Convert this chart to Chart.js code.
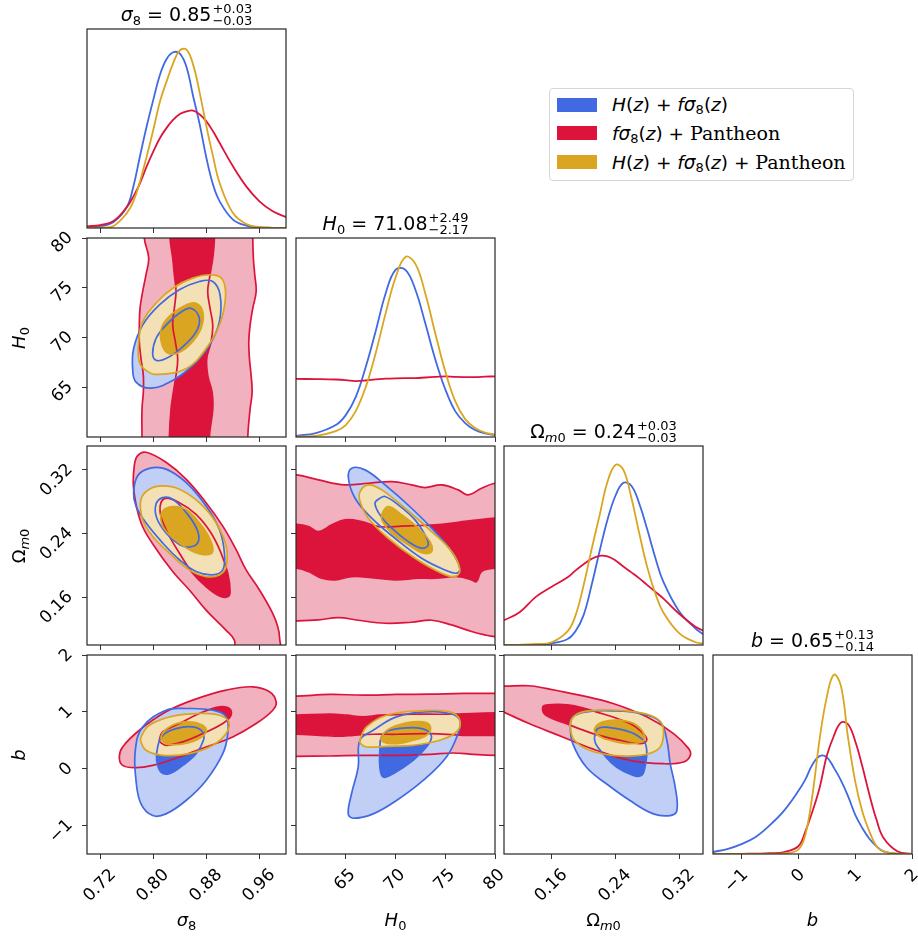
<!DOCTYPE html>
<html>
<head>
<meta charset="utf-8">
<title>corner plot</title>
<script src="https://cdn.jsdelivr.net/npm/chart.js@4.4.1/dist/chart.umd.min.js"></script>
<style>
  html, body { margin: 0; padding: 0; background: #fff; }
  body { position: relative; width: 918px; height: 938px; overflow: hidden; font-family: "DejaVu Sans", sans-serif; }
  canvas { position: absolute; }
  .txt { position: absolute; color: #000; white-space: nowrap; }
  .ttl { font-size: 19px; line-height: 30px; height: 30px; width: 199px; text-align: center; }
  .ttl sub { font-size: 13px; vertical-align: -4px; line-height: 0; }
  .pm { display: inline-block; font-size: 13px; line-height: 12px; vertical-align: -4px; text-align: left; margin-left: 1px; }
  .pm span { display: block; }
  .ax { font-size: 18px; line-height: 24px; height: 24px; }
  .ax sub { font-size: 13px; vertical-align: -4px; line-height: 0; }
  .bottom { width: 199px; text-align: center; }
  .left { transform: translate(-50%, -50%) rotate(-90deg); }
  #legend { position: absolute; left: 549px; top: 88px; width: 303px; height: 91px; border: 1px solid #d6d6d6; border-radius: 4px; background: #fff; }
  .lrow { position: absolute; left: 0; height: 24px; line-height: 24px; font-size: 18.5px; white-space: nowrap; }
  .patch { position: absolute; left: 7px; top: 5px; width: 40px; height: 14px; }
  .ltext { position: absolute; left: 62px; top: 0; }
  .ltext sub { font-size: 13px; vertical-align: -3px; line-height: 0; }
  .rm { font-family: "DejaVu Serif", serif; font-size: 19px; }
</style>
</head>
<body>
<script>
// ---------- 1D marginals (height of the curve, 0 = bottom, 1 = top of panel) ----------
const s8Grid = [0.70, 0.72, 0.74, 0.76, 0.77, 0.78, 0.79, 0.80, 0.81, 0.82, 0.83, 0.84, 0.85, 0.86, 0.87, 0.88, 0.89, 0.90, 0.92, 0.94, 0.96, 0.98, 1.00];
const s8Blue = [0.003, 0.008, 0.03, 0.105, 0.21, 0.363, 0.511, 0.645, 0.77, 0.849, 0.883, 0.876, 0.809, 0.662, 0.519, 0.352, 0.218, 0.134, 0.042, 0.012, 0.003, 0.001, 0];
const s8Red = [0.008, 0.015, 0.035, 0.105, 0.159, 0.226, 0.31, 0.385, 0.452, 0.503, 0.544, 0.573, 0.586, 0.59, 0.57, 0.536, 0.486, 0.427, 0.31, 0.209, 0.134, 0.084, 0.055];
const s8Gold = [0, 0.002, 0.01, 0.075, 0.134, 0.235, 0.36, 0.494, 0.636, 0.737, 0.829, 0.893, 0.896, 0.821, 0.678, 0.511, 0.36, 0.226, 0.075, 0.02, 0.005, 0.001, 0];

const h0Grid = [60, 62, 64, 65, 66, 67, 68, 69, 70, 71, 72, 73, 74, 75, 76, 77, 78, 79, 80];
const h0Blue = [0.006, 0.02, 0.06, 0.11, 0.2, 0.35, 0.53, 0.72, 0.84, 0.84, 0.74, 0.57, 0.39, 0.24, 0.13, 0.07, 0.035, 0.018, 0.01];
const h0Red = [0.292, 0.291, 0.289, 0.286, 0.281, 0.284, 0.29, 0.293, 0.295, 0.296, 0.296, 0.299, 0.302, 0.305, 0.302, 0.301, 0.301, 0.303, 0.305];
const h0Gold = [0.002, 0.006, 0.03, 0.06, 0.13, 0.25, 0.42, 0.62, 0.8, 0.905, 0.87, 0.72, 0.52, 0.33, 0.18, 0.09, 0.045, 0.022, 0.012];

const omGrid = [0.10, 0.12, 0.14, 0.16, 0.18, 0.19, 0.20, 0.21, 0.22, 0.23, 0.24, 0.25, 0.26, 0.27, 0.28, 0.29, 0.30, 0.32, 0.34, 0.35];
const omBlue = [0, 0.001, 0.002, 0.008, 0.03, 0.07, 0.15, 0.3, 0.47, 0.63, 0.75, 0.815, 0.8, 0.71, 0.58, 0.44, 0.32, 0.17, 0.085, 0.055];
const omRed = [0.124, 0.166, 0.242, 0.293, 0.34, 0.375, 0.406, 0.433, 0.448, 0.445, 0.425, 0.394, 0.365, 0.335, 0.301, 0.268, 0.234, 0.157, 0.093, 0.073];
const omGold = [0, 0.001, 0.005, 0.014, 0.07, 0.15, 0.3, 0.48, 0.65, 0.82, 0.905, 0.88, 0.74, 0.56, 0.39, 0.26, 0.165, 0.06, 0.015, 0.007];

const bGrid = [-1.5, -1.25, -1.0, -0.75, -0.5, -0.25, 0, 0.125, 0.25, 0.375, 0.5, 0.625, 0.75, 0.875, 1.0, 1.125, 1.25, 1.375, 1.5, 1.75, 2.0];
const bBlue = [0.01, 0.025, 0.05, 0.086, 0.145, 0.218, 0.316, 0.375, 0.45, 0.492, 0.487, 0.434, 0.37, 0.291, 0.198, 0.131, 0.077, 0.039, 0.013, 0.002, 0];
const bRed = [0, 0, 0.001, 0.002, 0.004, 0.01, 0.039, 0.114, 0.215, 0.333, 0.492, 0.593, 0.66, 0.652, 0.568, 0.442, 0.299, 0.173, 0.081, 0.013, 0.001];
const bGold = [0, 0, 0, 0, 0.001, 0.003, 0.022, 0.097, 0.299, 0.576, 0.787, 0.901, 0.845, 0.585, 0.366, 0.215, 0.114, 0.039, 0.013, 0.002, 0];

// ---------- 2D contours: [x, y] outlines, 95% and 68% ----------
// H0 vs sigma8
const h0s8Red95 = [[0.7864, 84], [0.7864, 80], [0.7930, 77.99], [0.7889, 76.30], [0.7839, 74.62], [0.7799, 72.93], [0.7789, 71.25], [0.7789, 69.56], [0.7814, 67.88], [0.7849, 66.19], [0.7849, 64.50], [0.7829, 62.82], [0.7829, 60], [0.7829, 56],
  [0.9424, 56], [0.9424, 60], [0.9459, 62.82], [0.9489, 64.50], [0.9474, 66.19], [0.9449, 67.88], [0.9439, 69.56], [0.9459, 71.25], [0.9499, 72.93], [0.9550, 74.62], [0.9529, 76.30], [0.9508, 77.99], [0.9499, 80], [0.9499, 84]];
const h0s8Red68 = [[0.8252, 84], [0.8252, 80], [0.8292, 77.99], [0.8317, 76.30], [0.8342, 74.62], [0.8317, 72.93], [0.8292, 71.25], [0.8332, 69.56], [0.8367, 67.88], [0.8342, 66.19], [0.8302, 64.50], [0.8267, 62.82], [0.8242, 60], [0.8242, 56],
  [0.8845, 56], [0.8845, 60], [0.8896, 62.82], [0.8886, 64.50], [0.8820, 66.19], [0.8805, 67.88], [0.8870, 69.56], [0.8896, 71.25], [0.8855, 72.93], [0.8820, 74.62], [0.8855, 76.30], [0.8896, 77.99], [0.8921, 80], [0.8921, 84]];
const h0s8Blue95 = [[0.7688, 66.87], [0.7739, 65.52], [0.7965, 64.91], [0.8292, 65.69], [0.8594, 67.20], [0.8845, 69.22], [0.8996, 71.58], [0.9006, 74.28], [0.8896, 75.63], [0.8694, 75.63], [0.8392, 74.79], [0.8091, 73.27], [0.7839, 71.25], [0.7703, 68.89]];
const h0s8Blue68 = [[0.8569, 72.93], [0.8694, 71.92], [0.8644, 70.57], [0.8443, 69.06], [0.8191, 67.88], [0.8040, 67.71], [0.7990, 68.38], [0.8040, 69.90], [0.8191, 71.25], [0.8392, 72.43]];
const h0s8Gold95 = [[0.7779, 69.56], [0.7789, 67.54], [0.7890, 66.70], [0.8040, 66.29], [0.8493, 66.87], [0.8795, 68.89], [0.8996, 71.25], [0.9087, 73.94], [0.9047, 75.80], [0.8896, 76.30], [0.8594, 75.97], [0.8292, 74.95], [0.8040, 73.44], [0.7839, 71.58]];
const h0s8Gold68 = [[0.8111, 69.90], [0.8191, 68.55], [0.8342, 68.38], [0.8543, 69.22], [0.8719, 70.91], [0.8745, 72.60], [0.8644, 73.44], [0.8493, 73.27], [0.8292, 72.43], [0.8141, 71.25]];

// Omega_m0 vs sigma8
const oms8Red95 = [[0.7703, 0.2957], [0.7713, 0.3253], [0.7764, 0.3379], [0.7889, 0.3421], [0.8191, 0.3295], [0.8493, 0.3084], [0.8795, 0.2788], [0.9047, 0.2493], [0.9248, 0.2197], [0.9399, 0.1944], [0.9600, 0.1691], [0.9801, 0.1395], [0.9877, 0.1227], [0.9902, 0.1100], [0.9892, 0.085],
  [0.9248, 0.085], [0.9223, 0.1058], [0.9097, 0.1184], [0.8795, 0.1438], [0.8543, 0.1691], [0.8292, 0.1923], [0.8015, 0.2240], [0.7814, 0.2535]];
const oms8Red68 = [[0.8166, 0.2839], [0.8392, 0.2788], [0.8644, 0.2641], [0.8870, 0.2408], [0.9021, 0.2155], [0.9122, 0.1902], [0.9157, 0.1670], [0.9122, 0.1606], [0.8996, 0.1615], [0.8795, 0.1733], [0.8594, 0.1902], [0.8392, 0.2155], [0.8191, 0.2451], [0.8101, 0.2683]];
const oms8Blue95 = [[0.7703, 0.2915], [0.7764, 0.3126], [0.7940, 0.3219], [0.8191, 0.3210], [0.8493, 0.3042], [0.8795, 0.2746], [0.8996, 0.2451], [0.9072, 0.2155], [0.9047, 0.1944], [0.8896, 0.1881], [0.8644, 0.1923], [0.8392, 0.2071], [0.8141, 0.2282], [0.7889, 0.2535], [0.7738, 0.2746]];
const oms8Blue68 = [[0.8141, 0.2852], [0.8292, 0.2831], [0.8518, 0.2641], [0.8669, 0.2430], [0.8669, 0.2282], [0.8543, 0.2231], [0.8392, 0.2261], [0.8191, 0.2408], [0.8050, 0.2598], [0.8040, 0.2767]];
const oms8Gold95 = [[0.7814, 0.2831], [0.7940, 0.2957], [0.8141, 0.2999], [0.8392, 0.2957], [0.8694, 0.2788], [0.8946, 0.2535], [0.9097, 0.2240], [0.9097, 0.1986], [0.8996, 0.1881], [0.8795, 0.1860], [0.8543, 0.1944], [0.8242, 0.2155], [0.7990, 0.2366], [0.7839, 0.2577]];
const oms8Gold68 = [[0.8141, 0.2683], [0.8292, 0.2738], [0.8493, 0.2704], [0.8694, 0.2535], [0.8845, 0.2345], [0.8896, 0.2176], [0.8795, 0.2134], [0.8594, 0.2176], [0.8392, 0.2282], [0.8191, 0.2430], [0.8116, 0.2556]];

// b vs sigma8
const bs8Red95 = [[0.7487, 0.206], [0.7537, 0.382], [0.7789, 0.676], [0.8191, 1.0], [0.8594, 1.206], [0.9097, 1.382], [0.9499, 1.441], [0.9751, 1.353], [0.9852, 1.176], [0.9801, 1.029], [0.9550, 0.794], [0.9197, 0.559], [0.8795, 0.382], [0.8392, 0.206], [0.7990, 0.059], [0.7739, 0.018], [0.7537, 0.059]];
const bs8Red68 = [[0.8091, 0.5], [0.8141, 0.647], [0.8392, 0.794], [0.8694, 0.971], [0.8996, 1.088], [0.9147, 1.059], [0.9172, 0.941], [0.9047, 0.794], [0.8745, 0.618], [0.8443, 0.471], [0.8191, 0.412], [0.8101, 0.471]];
const bs8Blue95 = [[0.8191, 1.029], [0.7839, 0.735], [0.7728, 0.324], [0.7739, -0.206], [0.7814, -0.618], [0.7990, -0.824], [0.8191, -0.794], [0.8493, -0.559], [0.8795, -0.206], [0.9047, 0.265], [0.9122, 0.618], [0.9097, 0.912], [0.8896, 1.029], [0.8493, 1.059]];
const bs8Blue68 = [[0.8065, 0.382], [0.8141, 0.588], [0.8342, 0.706], [0.8594, 0.735], [0.8745, 0.647], [0.8755, 0.5], [0.8644, 0.265], [0.8443, 0.059], [0.8242, -0.088], [0.8116, -0.059], [0.8050, 0.147]];
const bs8Gold95 = [[0.7814, 0.559], [0.7940, 0.765], [0.8292, 0.924], [0.8694, 0.971], [0.8996, 0.941], [0.9137, 0.824], [0.9097, 0.618], [0.8896, 0.412], [0.8543, 0.265], [0.8141, 0.235], [0.7889, 0.324], [0.7814, 0.471]];
const bs8Gold68 = [[0.8116, 0.559], [0.8242, 0.735], [0.8493, 0.824], [0.8745, 0.765], [0.8795, 0.647], [0.8644, 0.5], [0.8392, 0.429], [0.8191, 0.441]];

// Omega_m0 vs H0
const omh0Red95 = [[58, 0.314], [60.08, 0.3137], [62.26, 0.3074], [64.93, 0.3012], [67.27, 0.3032], [69.62, 0.3053], [71.62, 0.3012], [72.96, 0.2978], [74.63, 0.3012], [76.3, 0.2949], [77.31, 0.2886], [78.65, 0.2970], [79.98, 0.3032], [82, 0.306],
  [82, 0.11], [79.98, 0.1106], [78.98, 0.1127], [77.64, 0.1169], [75.64, 0.1252], [73.63, 0.1311], [71.62, 0.1286], [68.95, 0.1273], [66.27, 0.1311], [64.26, 0.1344], [62.26, 0.1315], [60.08, 0.1303], [58, 0.1303]];
const omh0Red68 = [[58, 0.2517], [60.08, 0.2517], [61.25, 0.2488], [62.26, 0.2425], [63.6, 0.2509], [64.93, 0.2572], [66.61, 0.2551], [68.28, 0.2488], [69.95, 0.2488], [72.29, 0.2501], [73.96, 0.2509], [76.3, 0.2542], [78.31, 0.2572], [79.98, 0.2593], [82, 0.26],
  [82, 0.1964], [79.98, 0.1964], [78.65, 0.1923], [78.14, 0.1797], [77.64, 0.1818], [76.3, 0.1860], [73.96, 0.1839], [72.29, 0.1839], [69.95, 0.1818], [67.61, 0.1847], [65.6, 0.1860], [63.93, 0.1818], [62.59, 0.1839], [61.25, 0.1923], [60.08, 0.1964], [58, 0.1964]];
const omh0Blue95 = [[65.6, 0.3221], [66.94, 0.3200], [68.95, 0.3012], [71.62, 0.2718], [73.96, 0.2425], [75.64, 0.2174], [76.47, 0.1964], [76.14, 0.1902], [74.97, 0.1943], [72.63, 0.2090], [69.95, 0.2341], [67.61, 0.2593], [65.94, 0.2844], [65.27, 0.3095]];
const omh0Blue68 = [[68.44, 0.2844], [68.95, 0.2865], [70.28, 0.2760], [71.96, 0.2572], [72.96, 0.2383], [73.29, 0.2258], [72.63, 0.2216], [71.29, 0.2299], [69.62, 0.2467], [68.44, 0.2635], [67.94, 0.2781]];
const omh0Gold95 = [[66.44, 0.2928], [67.27, 0.3012], [68.61, 0.2949], [70.95, 0.2718], [73.63, 0.2425], [75.64, 0.2174], [76.47, 0.1943], [75.97, 0.1860], [74.63, 0.1902], [71.96, 0.2090], [69.28, 0.2341], [67.27, 0.2593], [66.44, 0.2802]];
const omh0Gold68 = [[68.61, 0.2635], [69.28, 0.2739], [70.62, 0.2635], [72.29, 0.2467], [73.46, 0.2299], [73.63, 0.2174], [72.79, 0.2153], [71.29, 0.2258], [69.62, 0.2404], [68.71, 0.2551]];

// b vs H0
const bh0Red95 = [[58, 1.276], [60, 1.276], [63.4, 1.306], [66.75, 1.294], [70.1, 1.306], [73.45, 1.312], [76.8, 1.324], [80, 1.324], [82, 1.324],
  [82, 0.235], [80, 0.235], [77.8, 0.253], [75.79, 0.276], [73.45, 0.253], [70.1, 0.235], [66.75, 0.235], [63.4, 0.224], [60, 0.218], [58, 0.218]];
const bh0Red68 = [[58, 0.941], [60, 0.941], [63.4, 0.959], [65.08, 0.941], [66.75, 0.912], [68.43, 0.941], [71.77, 0.959], [75.12, 0.959], [80, 0.982], [82, 0.982],
  [82, 0.588], [80, 0.588], [76.8, 0.588], [73.45, 0.618], [70.1, 0.606], [67.76, 0.606], [65.75, 0.588], [64.41, 0.571], [62.4, 0.588], [60, 0.606], [58, 0.606]];
const bh0Blue95 = [[67.76, 0.676], [66.42, 0.5], [66.25, 0.029], [65.58, -0.441], [65.25, -0.794], [65.75, -0.871], [67.76, -0.794], [70.10, -0.559], [72.78, -0.206], [75.12, 0.206], [76.29, 0.618], [76.46, 0.853], [75.46, 0.971], [73.11, 1.0], [70.10, 0.912]];
const bh0Blue68 = [[68.59, 0.559], [69.43, 0.676], [71.77, 0.724], [73.11, 0.676], [73.62, 0.559], [73.11, 0.382], [71.77, 0.147], [69.77, -0.088], [68.76, -0.147], [68.43, 0.029], [68.43, 0.324]];
const bh0Gold95 = [[66.42, 0.5], [67.09, 0.735], [69.10, 0.941], [72.44, 1.018], [75.46, 1.0], [76.46, 0.853], [76.13, 0.647], [74.45, 0.5], [71.77, 0.412], [69.10, 0.394], [67.09, 0.382], [66.48, 0.441]];
const bh0Gold68 = [[68.59, 0.559], [69.43, 0.706], [71.10, 0.806], [72.78, 0.824], [73.52, 0.735], [73.11, 0.588], [71.77, 0.5], [70.10, 0.441], [68.76, 0.471]];

// b vs Omega_m0
const bomRed95 = [[0.085, 1.46], [0.099, 1.453], [0.1315, 1.459], [0.1526, 1.412], [0.1948, 1.294], [0.2370, 1.147], [0.2793, 0.912], [0.3130, 0.618], [0.3320, 0.353], [0.3341, 0.235], [0.3257, 0.118], [0.3004, 0.088], [0.2582, 0.147], [0.2159, 0.324], [0.1737, 0.559], [0.1315, 0.794], [0.099, 1.0], [0.085, 1.08]];
const bomRed68 = [[0.1484, 1.059], [0.1526, 1.118], [0.1822, 1.118], [0.2159, 1.0], [0.2582, 0.794], [0.2750, 0.618], [0.2793, 0.5], [0.2708, 0.441], [0.2455, 0.5], [0.2117, 0.618], [0.1779, 0.794], [0.1526, 0.941]];
const bomBlue95 = [[0.1864, 0.912], [0.2033, 1.0], [0.2370, 1.018], [0.2708, 0.971], [0.2961, 0.824], [0.3046, 0.5], [0.3088, 0.088], [0.3151, -0.324], [0.3172, -0.735], [0.3088, -0.824], [0.2877, -0.794], [0.2582, -0.559], [0.2286, -0.265], [0.2033, 0.029], [0.1864, 0.441], [0.1834, 0.735]];
const bomBlue68 = [[0.2138, 0.559], [0.2180, 0.706], [0.2328, 0.724], [0.2582, 0.647], [0.2750, 0.5], [0.2793, 0.324], [0.2771, 0.029], [0.2729, -0.118], [0.2624, -0.118], [0.2413, 0.029], [0.2244, 0.265], [0.2151, 0.441]];
const bomGold95 = [[0.1843, 0.853], [0.1948, 0.982], [0.2202, 1.029], [0.2539, 1.018], [0.2835, 0.941], [0.2983, 0.794], [0.2995, 0.5], [0.2919, 0.324], [0.2708, 0.235], [0.2370, 0.235], [0.2075, 0.324], [0.1885, 0.5], [0.1834, 0.706]];
const bomGold68 = [[0.2138, 0.706], [0.2244, 0.824], [0.2455, 0.853], [0.2666, 0.765], [0.2771, 0.559], [0.2729, 0.471], [0.2539, 0.441], [0.2328, 0.5], [0.2180, 0.588]];

// ---------- axes ----------
const s8Range = [0.70, 1.00], h0Range = [60, 80], omRange = [0.10, 0.35], bRange = [-1.5, 2];
const s8Ticks = [0.72, 0.80, 0.88, 0.96], s8Labels = ['0.72', '0.80', '0.88', '0.96'];
const h0Ticks = [65, 70, 75, 80], h0Labels = ['65', '70', '75', '80'];
const omTicks = [0.16, 0.24, 0.32], omLabels = ['0.16', '0.24', '0.32'];
const bTicks = [-1, 0, 1, 2], bLabels = ['\u22121', '0', '1', '2'];

const seriesNames = ['H(z) + f\u03c38(z)', 'f\u03c38(z) + Pantheon', 'H(z) + f\u03c38(z) + Pantheon'];
const titleTexts = [
  ['<i>\u03c3</i><sub>8</sub> = 0.85', '+0.03', '\u22120.03'],
  ['<i>H</i><sub>0</sub> = 71.08', '+2.49', '\u22122.17'],
  ['\u03a9<sub><i>m</i>0</sub> = 0.24', '+0.03', '\u22120.03'],
  ['<i>b</i> = 0.65', '+0.13', '\u22120.14']
];

// ---------- styling / layout ----------
const BLUE = '#4169e1', BLUE_L = 'rgb(193,206,245)';
const RED = '#dc143c', RED_L = 'rgb(242,177,190)';
const GOLD = '#daa520', GOLD_L = 'rgb(243,224,181)';

const PANEL_LEFT = [87, 296, 504, 713];
const PANEL_TOP = [29, 238, 446, 655];
const PANEL = 199;
const ML = 72, MB = 72, MT = 28, MR = 28;

class ClosedLine extends Chart.LineController {
  update(mode) {
    super.update(mode);
    const line = this._cachedMeta.dataset;
    line._loop = true;
    line._fullLoop = true;
    delete line._segments;
    delete line._path;
    line._pointsUpdated = false;
  }
}
ClosedLine.id = 'closedLine';
ClosedLine.defaults = Chart.LineController.defaults;
Chart.register(ClosedLine);

const frame = {
  id: 'frame',
  afterDraw(chart) {
    const { ctx, chartArea: a } = chart;
    ctx.save();
    ctx.strokeStyle = '#262626';
    ctx.lineWidth = 1.2;
    ctx.strokeRect(a.left, a.top, a.right - a.left, a.bottom - a.top);
    ctx.restore();
  }
};

const AX = {
  s8: { range: s8Range, ticks: s8Ticks, labels: s8Labels, shift: 13 },
  h0: { range: h0Range, ticks: h0Ticks, labels: h0Labels, shift: 7 },
  om: { range: omRange, ticks: omTicks, labels: omLabels, shift: 13 },
  b: { range: bRange, ticks: bTicks, labels: bLabels, shift: 4 },
  dens: { range: [0, 1], ticks: [0, 1], labels: ['', ''], shift: 0 }
};

function axis(spec, isX, showLabels, showTicks) {
  return {
    type: 'linear',
    min: spec.range[0],
    max: spec.range[1],
    afterBuildTicks: s => { s.ticks = spec.ticks.map(v => ({ value: v })); },
    afterFit: s => { if (isX) s.height = MB; else s.width = ML; },
    border: { display: false },
    grid: { display: showTicks, drawOnChartArea: false, drawTicks: true, tickLength: 5, tickWidth: 1, color: '#333' },
    ticks: {
      display: showLabels, autoSkip: false, minRotation: 45, maxRotation: 45,
      padding: isX ? 6 : 12, labelOffset: isX ? spec.shift : -3,
      color: '#000', font: { family: 'DejaVu Sans', size: 17 },
      callback: (v, i) => spec.labels[i]
    }
  };
}

function curve(xs, ys, color) {
  return {
    type: 'line', data: xs.map((x, i) => ({ x, y: ys[i] })),
    borderColor: color, borderWidth: 1.8, fill: false, pointRadius: 0,
    tension: 0.4
  };
}

function shape(pts, color, filled) {
  return {
    type: 'closedLine', data: pts.map(p => ({ x: p[0], y: p[1] })),
    backgroundColor: color, borderColor: color, borderWidth: filled ? 0 : 1.7,
    fill: filled ? 'shape' : false, tension: 0.4, pointRadius: 0
  };
}

// layers in drawing order: fills first (red, blue, gold), then outlines
function contours(layers) {
  const out = [];
  layers.forEach(l => { out.push(shape(l[0], l[2], true)); out.push(shape(l[1], l[3], true)); });
  layers.forEach(l => { out.push(shape(l[0], l[3], false)); out.push(shape(l[1], l[3], false)); });
  return out.reverse();
}

function panel(row, col, xKey, yKey, datasets) {
  const cv = document.createElement('canvas');
  cv.width = ML + PANEL + MR;
  cv.height = MT + PANEL + MB;
  cv.style.left = (PANEL_LEFT[col] - ML) + 'px';
  cv.style.top = (PANEL_TOP[row] - MT) + 'px';
  document.body.appendChild(cv);
  const diag = row === col;
  new Chart(cv, {
    type: 'line',
    data: { datasets },
    options: {
      responsive: false, animation: false, events: [], devicePixelRatio: 1,
      layout: { padding: { top: MT, right: MR, left: 0, bottom: 0 } },
      elements: { point: { radius: 0 }, line: { capBezierPoints: false } },
      plugins: { legend: { display: false }, tooltip: { enabled: false } },
      scales: {
        x: axis(AX[xKey], true, row === 3, true),
        y: diag ? axis(AX.dens, false, false, false) : axis(AX[yKey], false, col === 0, true)
      }
    },
    plugins: [frame]
  });
}

// diagonal
panel(0, 0, 's8', 'dens', [curve(s8Grid, s8Gold, GOLD), curve(s8Grid, s8Red, RED), curve(s8Grid, s8Blue, BLUE)]);
panel(1, 1, 'h0', 'dens', [curve(h0Grid, h0Gold, GOLD), curve(h0Grid, h0Red, RED), curve(h0Grid, h0Blue, BLUE)]);
panel(2, 2, 'om', 'dens', [curve(omGrid, omGold, GOLD), curve(omGrid, omRed, RED), curve(omGrid, omBlue, BLUE)]);
panel(3, 3, 'b', 'dens', [curve(bGrid, bGold, GOLD), curve(bGrid, bRed, RED), curve(bGrid, bBlue, BLUE)]);

// lower triangle
panel(1, 0, 's8', 'h0', contours([[h0s8Red95, h0s8Red68, RED_L, RED], [h0s8Blue95, h0s8Blue68, BLUE_L, BLUE], [h0s8Gold95, h0s8Gold68, GOLD_L, GOLD]]));
panel(2, 0, 's8', 'om', contours([[oms8Red95, oms8Red68, RED_L, RED], [oms8Blue95, oms8Blue68, BLUE_L, BLUE], [oms8Gold95, oms8Gold68, GOLD_L, GOLD]]));
panel(3, 0, 's8', 'b', contours([[bs8Red95, bs8Red68, RED_L, RED], [bs8Blue95, bs8Blue68, BLUE_L, BLUE], [bs8Gold95, bs8Gold68, GOLD_L, GOLD]]));
panel(2, 1, 'h0', 'om', contours([[omh0Red95, omh0Red68, RED_L, RED], [omh0Blue95, omh0Blue68, BLUE_L, BLUE], [omh0Gold95, omh0Gold68, GOLD_L, GOLD]]));
panel(3, 1, 'h0', 'b', contours([[bh0Red95, bh0Red68, RED_L, RED], [bh0Blue95, bh0Blue68, BLUE_L, BLUE], [bh0Gold95, bh0Gold68, GOLD_L, GOLD]]));
panel(3, 2, 'om', 'b', contours([[bomRed95, bomRed68, RED_L, RED], [bomBlue95, bomBlue68, BLUE_L, BLUE], [bomGold95, bomGold68, GOLD_L, GOLD]]));

// ---------- text ----------
function addText(cls, html, left, top) {
  const d = document.createElement('div');
  d.className = 'txt ' + cls;
  d.innerHTML = html;
  d.style.left = left + 'px';
  d.style.top = top + 'px';
  document.body.appendChild(d);
  return d;
}

titleTexts.forEach((t, i) => {
  addText('ttl', t[0] + '<span class="pm"><span>' + t[1] + '</span><span>' + t[2] + '</span></span>', PANEL_LEFT[i], PANEL_TOP[i] - 30);
});

const axisNames = ['<i>\u03c3</i><sub>8</sub>', '<i>H</i><sub>0</sub>', '\u03a9<sub><i>m</i>0</sub>', '<i>b</i>'];
axisNames.forEach((n, i) => addText('ax bottom', n, PANEL_LEFT[i], 908));
[1, 2, 3].forEach(r => addText('ax left', axisNames[r], 19, PANEL_TOP[r] + PANEL / 2));

const legend = document.createElement('div');
legend.id = 'legend';
document.body.appendChild(legend);
const legendHtml = [
  '<i>H</i>(<i>z</i>) + <i>f\u03c3</i><sub>8</sub>(<i>z</i>)',
  '<i>f\u03c3</i><sub>8</sub>(<i>z</i>) + <span class="rm">Pantheon</span>',
  '<i>H</i>(<i>z</i>) + <i>f\u03c3</i><sub>8</sub>(<i>z</i>) + <span class="rm">Pantheon</span>'
];
[BLUE, RED, GOLD].forEach((c, i) => {
  const row = document.createElement('div');
  row.className = 'lrow';
  row.style.top = (4 + i * 28.3) + 'px';
  row.title = seriesNames[i];
  row.innerHTML = '<div class="patch" style="background:' + c + '"></div><div class="ltext">' + legendHtml[i] + '</div>';
  legend.appendChild(row);
});
</script>
</body>
</html>
